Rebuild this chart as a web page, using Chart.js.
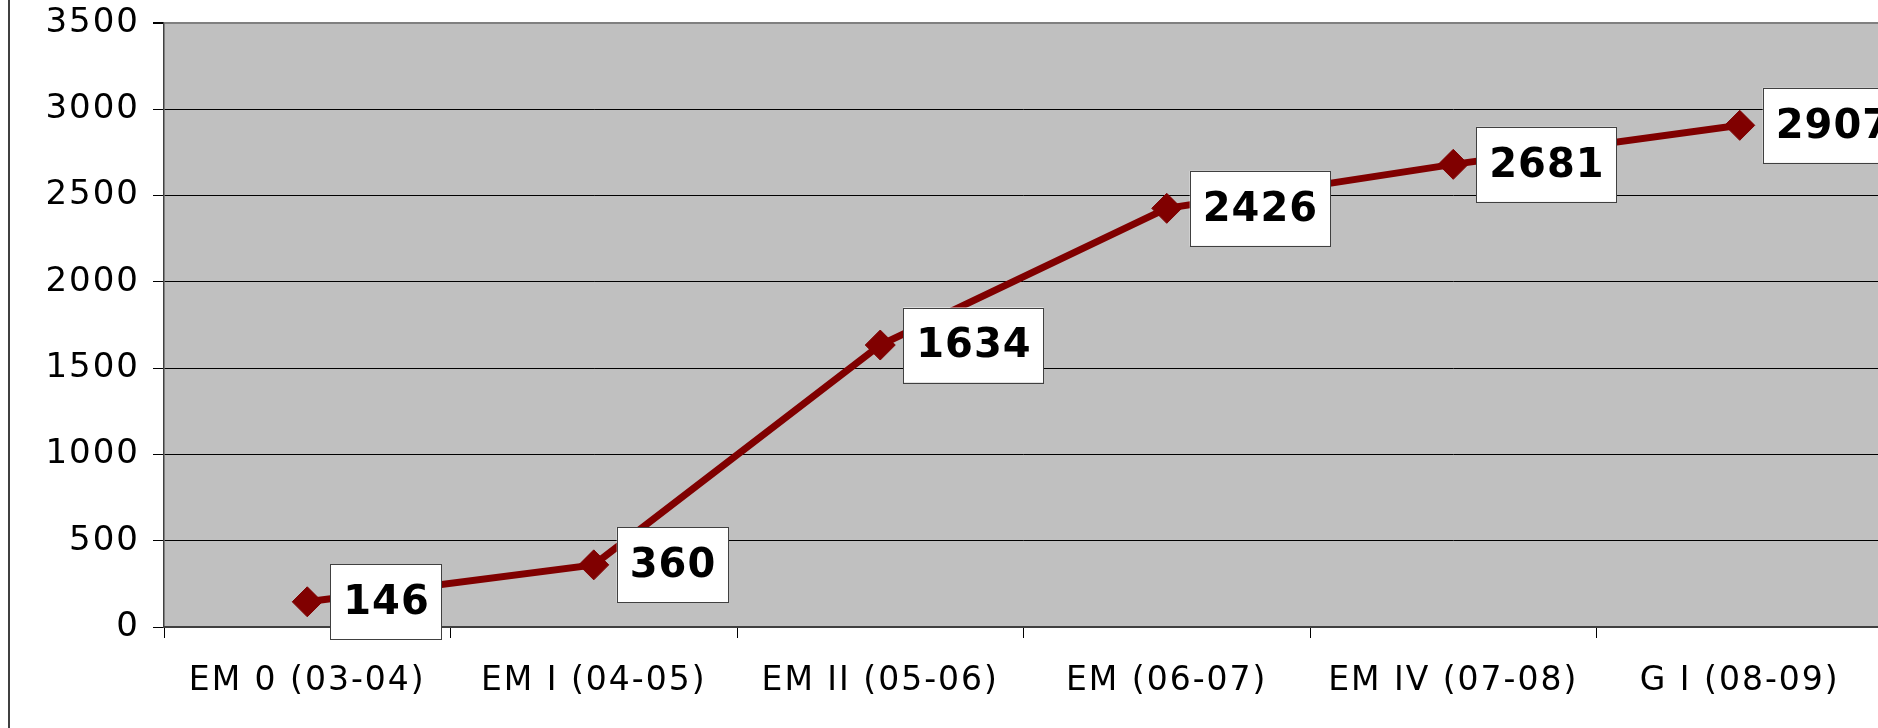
<!DOCTYPE html>
<html>
<head>
<meta charset="utf-8">
<title>EM progress chart</title>
<script src="https://cdn.jsdelivr.net/npm/chart.js@4.4.1/dist/chart.umd.min.js"></script>
<style>
    html, body {
        margin: 0;
        padding: 0;
        background: #ffffff;
        overflow: hidden;
    }
    #chart-wrap {
        position: relative;
        width: 1886px;
        height: 728px;
    }
    #frame-line {
        position: absolute;
        left: 8px;
        top: 0;
        width: 2px;
        height: 728px;
        background: #404040;
    }
</style>
</head>
<body>
<div id="chart-wrap">
    <canvas id="progress-chart"></canvas>
    <div id="frame-line"></div>
</div>
<script>
// Chart data
const categories = ['EM 0 (03-04)', 'EM I (04-05)', 'EM II (05-06)', 'EM (06-07)', 'EM IV (07-08)', 'G I (08-09)'];
const values = [146, 360, 1634, 2426, 2681, 2907];
const yTicks = [0, 500, 1000, 1500, 2000, 2500, 3000, 3500];

const lineColor = '#800000';
const plotColor = '#c0c0c0';

// Gray plot area behind everything
const plotBackground = {
    id: 'plotBackground',
    beforeDraw(chart) {
        const { ctx, chartArea } = chart;
        ctx.save();
        ctx.fillStyle = plotColor;
        ctx.fillRect(chartArea.left, chartArea.top, chartArea.right - chartArea.left, chartArea.bottom - chartArea.top);
        ctx.restore();
        // axis text is slightly spread out in the original
        ctx.letterSpacing = '2px';
    }
};

// Boxed value labels to the right of each point
const valueLabels = {
    id: 'valueLabels',
    afterDatasetsDraw(chart) {
        const { ctx } = chart;
        const meta = chart.getDatasetMeta(0);
        ctx.save();
        ctx.letterSpacing = '1px';
        ctx.font = 'bold 40px "DejaVu Sans"';
        ctx.textAlign = 'center';
        ctx.textBaseline = 'middle';
        meta.data.forEach((point, i) => {
            const text = String(values[i]);
            const w = ctx.measureText(text).width + 25;
            const h = 75;
            const left = point.x + 23;
            const top = point.y - h / 2;
            ctx.fillStyle = '#ffffff';
            ctx.fillRect(left, top, w, h);
            ctx.strokeStyle = '#404040';
            ctx.lineWidth = 1;
            ctx.strokeRect(Math.round(left) + 0.5, Math.round(top) + 0.5, Math.round(w), Math.round(h));
            ctx.fillStyle = '#000000';
            ctx.fillText(text, left + w / 2 + 0.5, point.y + 2);
        });
        ctx.restore();
    }
};

function setupChart() {
    const canvas = document.getElementById('progress-chart');

    new Chart(canvas, {
        type: 'line',
        data: {
            labels: categories,
            datasets: [{
                data: values,
                borderColor: lineColor,
                backgroundColor: lineColor,
                borderWidth: 7,
                tension: 0,
                pointStyle: 'rectRot',
                pointRadius: 15,
                pointBorderWidth: 1,
                pointBorderColor: lineColor,
                pointBackgroundColor: lineColor
            }]
        },
        options: {
            responsive: true,
            maintainAspectRatio: false,
            animation: false,
            layout: {
                autoPadding: false,
                padding: { top: 23, right: 3, bottom: 0, left: 0 }
            },
            plugins: {
                legend: { display: false },
                tooltip: { enabled: false }
            },
            scales: {
                x: {
                    offset: true,
                    grid: {
                        offset: true,
                        drawOnChartArea: false,
                        drawTicks: true,
                        tickLength: 11,
                        color: '#000000',
                        lineWidth: 1
                    },
                    border: { color: '#404040', width: 2 },
                    ticks: {
                        autoSkip: false,
                        maxRotation: 0,
                        padding: 24,
                        color: '#000000',
                        font: { family: '"DejaVu Sans"', size: 33 }
                    },
                    afterFit(scale) {
                        scale.height = 101;
                        scale.paddingLeft = 0;
                        scale.paddingRight = 0;
                    }
                },
                y: {
                    min: 0,
                    max: 3500,
                    afterBuildTicks(scale) {
                        scale.ticks = yTicks.map(v => ({ value: v }));
                    },
                    grid: {
                        color: ctx => (ctx.tick && ctx.tick.value === 3500 ? '#808080' : '#000000'),
                        lineWidth: ctx => (ctx.tick && ctx.tick.value === 3500 ? 2 : 1),
                        tickLength: 11,
                        tickColor: '#000000'
                    },
                    border: { color: '#404040', width: 1.5 },
                    ticks: {
                        padding: 13,
                        color: '#000000',
                        font: { family: '"DejaVu Sans"', size: 34 },
                        callback: value => String(value)
                    },
                    afterFit(scale) {
                        scale.width = 164;
                        scale.paddingTop = 0;
                        scale.paddingBottom = 0;
                    }
                }
            }
        },
        plugins: [plotBackground, valueLabels]
    });
}

document.addEventListener('DOMContentLoaded', setupChart);
</script>
</body>
</html>
